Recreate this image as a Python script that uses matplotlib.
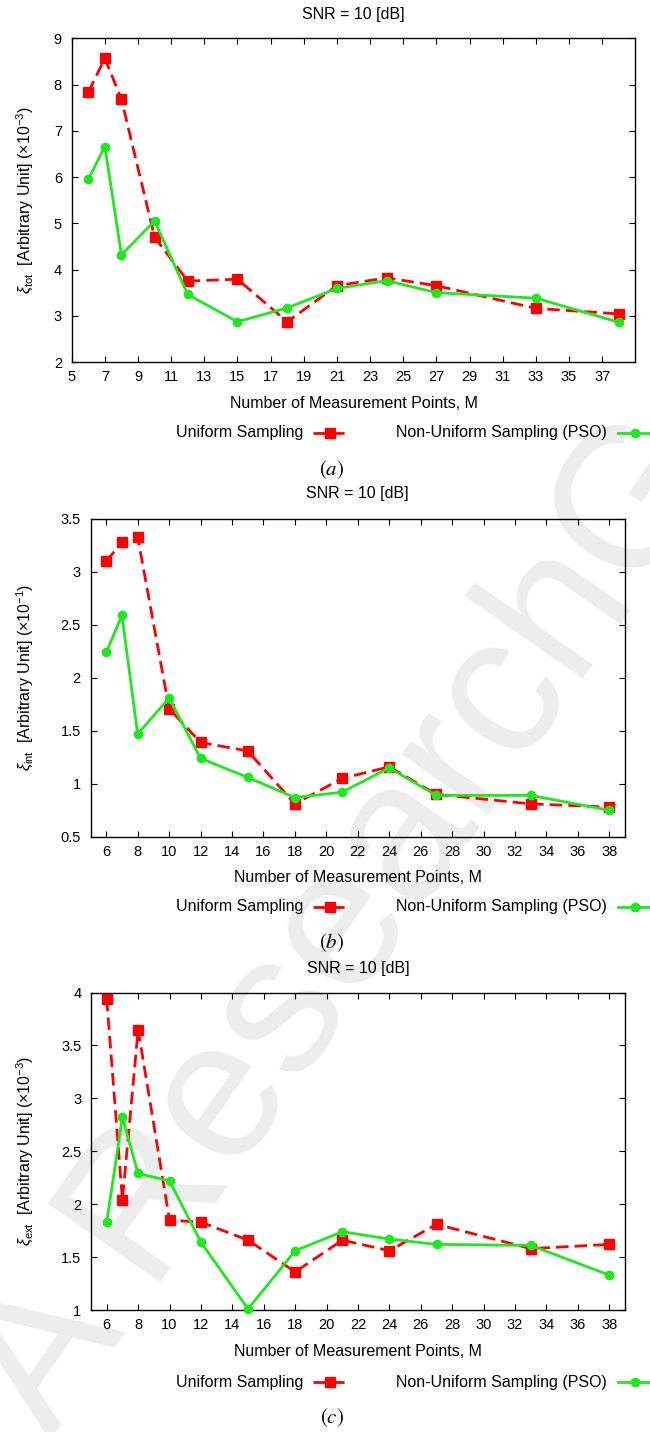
import matplotlib
matplotlib.use("Agg")
import matplotlib.pyplot as plt
from matplotlib.lines import Line2D
from matplotlib.ticker import FuncFormatter

plt.rcParams['font.family'] = ['Liberation Sans', 'DejaVu Sans']
plt.rcParams['mathtext.fontset'] = 'custom'
plt.rcParams['mathtext.rm'] = 'Liberation Sans'
plt.rcParams['mathtext.it'] = 'Liberation Sans:italic'
plt.rcParams['mathtext.bf'] = 'Liberation Sans:bold'

# ---- data ----
m_points = [6, 7, 8, 10, 12, 15, 18, 21, 24, 27, 33, 38]

tot_uniform = [7.83, 8.57, 7.68, 4.70, 3.75, 3.79, 2.87, 3.65, 3.82, 3.65, 3.16, 3.04]
tot_pso = [5.95, 6.66, 4.32, 5.05, 3.46, 2.87, 3.17, 3.59, 3.76, 3.50, 3.38, 2.86]

int_uniform = [3.10, 3.28, 3.33, 1.71, 1.39, 1.31, 0.81, 1.05, 1.16, 0.90, 0.81, 0.78]
int_pso = [2.24, 2.59, 1.47, 1.81, 1.24, 1.06, 0.87, 0.92, 1.15, 0.89, 0.89, 0.75]

ext_uniform = [3.94, 2.04, 3.65, 1.85, 1.83, 1.66, 1.36, 1.66, 1.56, 1.81, 1.58, 1.62]
ext_pso = [1.83, 2.82, 2.29, 2.22, 1.64, 1.01, 1.56, 1.74, 1.67, 1.62, 1.61, 1.33]

xticks_a = list(range(5, 38, 2))
xticks_bc = list(range(6, 39, 2))
yticks_a = [2, 3, 4, 5, 6, 7, 8, 9]
yticks_bc = [0.5, 1, 1.5, 2, 2.5, 3, 3.5]
yticks_c = [1, 1.5, 2, 2.5, 3, 3.5, 4]

title_text = "SNR = 10 [dB]"
xlabel_text = "Number of Measurement Points, M"
legend_labels = ["Uniform Sampling", "Non-Uniform Sampling (PSO)"]
ylabels = [r"$\xi_{\mathrm{tot}}$  [Arbitrary Unit] ($\times$10$^{-3}$)",
           r"$\xi_{\mathrm{int}}$  [Arbitrary Unit] ($\times$10$^{-1}$)",
           r"$\xi_{\mathrm{ext}}$  [Arbitrary Unit] ($\times$10$^{-3}$)"]
captions = [r"$(a)$", r"$(b)$", r"$(c)$"]

RED = "#ff0000"
GREEN = "#1ee81e"

W, H = 650, 1432
fig = plt.figure(figsize=(W / 100, H / 100), dpi=100)


def fx(x):
    return x / W


def fy(y):
    return 1 - y / H


# faint diagonal watermark behind everything
fig.text(fx(50), fy(1440), "A ResearchGate", rotation=55, rotation_mode='anchor',
         ha='left', va='baseline', fontsize=143, color='#ededed', zorder=-5,
         family='Liberation Sans')

panels = [
    dict(box=(71.7, 38.3, 635.3, 362.0), yl=(2, 9), yt=yticks_a, xt=xticks_a,
         u=tot_uniform, p=tot_pso, title_y=15, xlab_y=404, leg_y=433, cap_y=470),
    dict(box=(90.5, 519.0, 625.0, 836.7), yl=(0.5, 3.5), yt=yticks_bc, xt=xticks_bc,
         u=int_uniform, p=int_pso, title_y=494, xlab_y=878, leg_y=907, cap_y=943),
    dict(box=(91.0, 992.5, 625.0, 1310.0), yl=(1, 4), yt=yticks_c, xt=xticks_bc,
         u=ext_uniform, p=ext_pso, title_y=968, xlab_y=1352, leg_y=1382, cap_y=1418),
]

fmt = FuncFormatter(lambda v, pos: "%g" % v)

for i, pn in enumerate(panels):
    x0, y0, x1, y1 = pn['box']
    ax = fig.add_axes([fx(x0), fy(y1), (x1 - x0) / W, (y1 - y0) / H])
    ax.set_facecolor('none')
    ax.plot(m_points, pn['u'], color=RED, lw=2.0, dashes=(4.5, 2.2),
            marker='s', ms=6.5, clip_on=False, zorder=3)
    ax.plot(m_points, pn['p'], color=GREEN, lw=2.0, marker='o', ms=6,
            clip_on=False, zorder=4)
    ax.set_xlim(5, 39)
    ax.set_ylim(*pn['yl'])
    ax.set_xticks(pn['xt'])
    ax.set_yticks(pn['yt'])
    ax.yaxis.set_major_formatter(fmt)
    ax.tick_params(direction='in', length=4, width=0.8, top=True, right=True,
                   labelsize=10.5, colors='black')
    ax.tick_params(axis='y', pad=7)
    ax.tick_params(axis='x', pad=6)
    for s in ax.spines.values():
        s.set_linewidth(1.0)
    cx = (x0 + x1) / 2
    cy = (y0 + y1) / 2
    fig.text(fx(cx), fy(pn['title_y']), title_text, ha='center', va='center', fontsize=11.5)
    fig.text(fx(cx), fy(pn['xlab_y']), xlabel_text, ha='center', va='center', fontsize=11.5)
    fig.text(fx(25), fy(cy), ylabels[i], rotation=90, ha='center', va='center', fontsize=11.5)
    fig.text(fx(332), fy(pn['cap_y']), captions[i], ha='center', va='center', fontsize=15,
             math_fontfamily='stix')

    # key entries, text to the left of each sample
    ly = fy(pn['leg_y'])
    fig.text(fx(303), ly, legend_labels[0], ha='right', va='center', fontsize=11.5)
    fig.add_artist(Line2D([fx(313), fx(347)], [ly, ly], color=RED, lw=2.0,
                          dashes=(4.5, 2.2), transform=fig.transFigure))
    fig.add_artist(Line2D([fx(330)], [ly], color=RED, marker='s', ms=6.5, lw=0,
                          transform=fig.transFigure))
    fig.text(fx(607), ly, legend_labels[1], ha='right', va='center', fontsize=11.5)
    fig.add_artist(Line2D([fx(618), fx(660)], [ly, ly], color=GREEN, lw=2.0,
                          transform=fig.transFigure))
    fig.add_artist(Line2D([fx(635)], [ly], color=GREEN, marker='o', ms=6, lw=0,
                          transform=fig.transFigure))

fig.savefig("out.png", dpi=100)
